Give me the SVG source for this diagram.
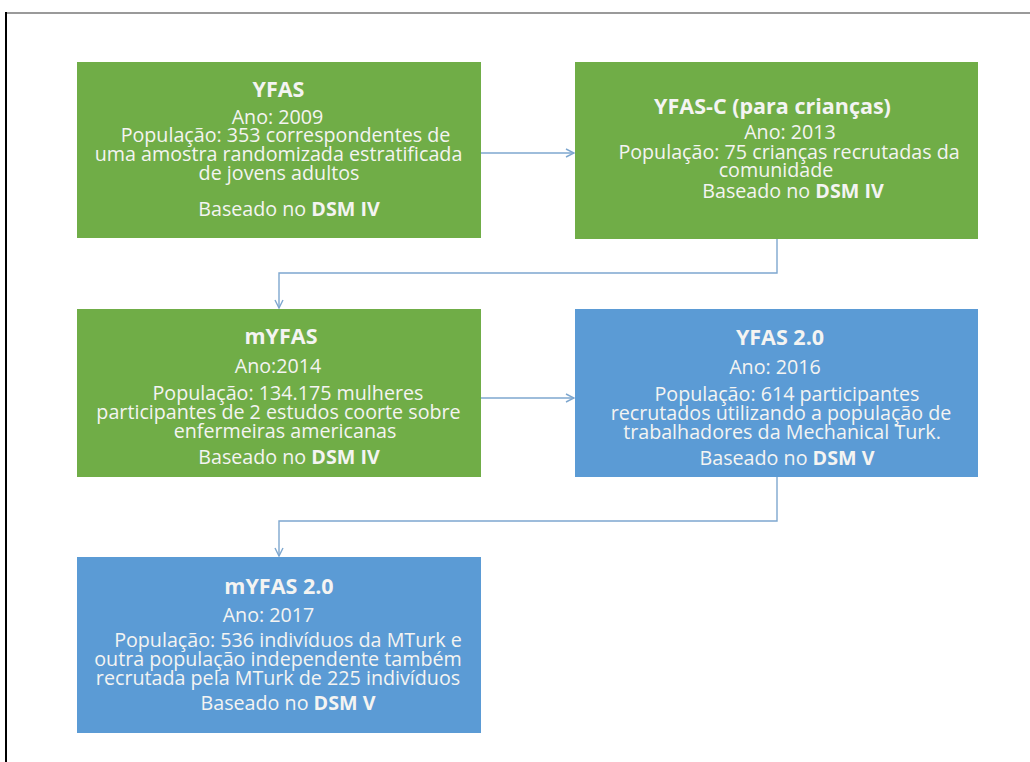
<svg xmlns="http://www.w3.org/2000/svg" width="1030" height="762" viewBox="0 0 1030 762">
<defs>
<style>
.green{fill:#70AD47}
.blue{fill:#5B9BD5}
.t{font-family:"Open Sans","Liberation Sans",sans-serif;font-size:19.7px;fill:#F4F4F2;text-anchor:middle}
.h{font-weight:bold;font-size:21.5px}
.b{font-weight:bold}
.con{fill:none;stroke:#7EA7CF;stroke-width:1.4}
</style>
<marker id="arr" viewBox="0 0 10 10" refX="9" refY="5" markerWidth="10" markerHeight="10" markerUnits="userSpaceOnUse" orient="auto">
<path d="M1,1 L9,5 L1,9" fill="none" stroke="#7EA7CF" stroke-width="1.4"/>
</marker>
</defs>
<rect width="1030" height="762" fill="#FFFFFF"/>
<path d="M6,762 V13 H1030" fill="none" stroke="#000" stroke-width="2"/>
<line x1="7" y1="13" x2="1030" y2="13" stroke="#9A9A9A" stroke-width="2"/>
<g id="connectors">
<path class="con" d="M481,153 H574" marker-end="url(#arr)"/>
<path class="con" d="M777,239 V273 H279 V308" marker-end="url(#arr)"/>
<path class="con" d="M481,398 H574" marker-end="url(#arr)"/>
<path class="con" d="M777,477 V521 H279 V556" marker-end="url(#arr)"/>
</g>
<g id="yfas">
<rect class="green" x="77" y="62" width="404" height="176"/>
<text class="t h" x="278.5" y="97">YFAS</text>
<text class="t" x="277.5" y="124">Ano: 2009</text>
<text class="t" x="285.5" y="142">População: 353 correspondentes de</text>
<text class="t" x="278.5" y="161">uma amostra randomizada estratificada</text>
<text class="t" x="279" y="180">de jovens adultos</text>
<text class="t" x="289" y="216">Baseado no <tspan class="b">DSM IV</tspan></text>
</g>
<g id="yfas-c">
<rect class="green" x="575" y="62" width="403" height="177"/>
<text class="t h" x="772.5" y="114">YFAS-C (para crianças)</text>
<text class="t" x="790" y="139">Ano: 2013</text>
<text class="t" x="789" y="159">População: 75 crianças recrutadas da</text>
<text class="t" x="776" y="177">comunidade</text>
<text class="t" x="793" y="198">Baseado no <tspan class="b">DSM IV</tspan></text>
</g>
<g id="myfas">
<rect class="green" x="77" y="309" width="404" height="168"/>
<text class="t h" x="281" y="344">mYFAS</text>
<text class="t" x="278" y="373">Ano:2014</text>
<text class="t" x="288" y="400">População: 134.175 mulheres</text>
<text class="t" x="278.5" y="419">participantes de 2 estudos coorte sobre</text>
<text class="t" x="285" y="438">enfermeiras americanas</text>
<text class="t" x="289" y="464">Baseado no <tspan class="b">DSM IV</tspan></text>
</g>
<g id="yfas2">
<rect class="blue" x="575" y="309" width="403" height="168"/>
<text class="t h" x="780" y="345">YFAS 2.0</text>
<text class="t" x="775" y="374">Ano: 2016</text>
<text class="t" x="787" y="401">População: 614 participantes</text>
<text class="t" x="781" y="420">recrutados utilizando a população de</text>
<text class="t" x="782" y="439">trabalhadores da Mechanical Turk.</text>
<text class="t" x="787" y="465">Baseado no <tspan class="b">DSM V</tspan></text>
</g>
<g id="myfas2">
<rect class="blue" x="77" y="557" width="404" height="176"/>
<text class="t h" x="279" y="594">mYFAS 2.0</text>
<text class="t" x="268.5" y="622">Ano: 2017</text>
<text class="t" x="288" y="647">População: 536 indivíduos da MTurk e</text>
<text class="t" x="278" y="666">outra população independente também</text>
<text class="t" x="278" y="685">recrutada pela MTurk de 225 indivíduos</text>
<text class="t" x="288" y="710">Baseado no <tspan class="b">DSM V</tspan></text>
</g>
</svg>
